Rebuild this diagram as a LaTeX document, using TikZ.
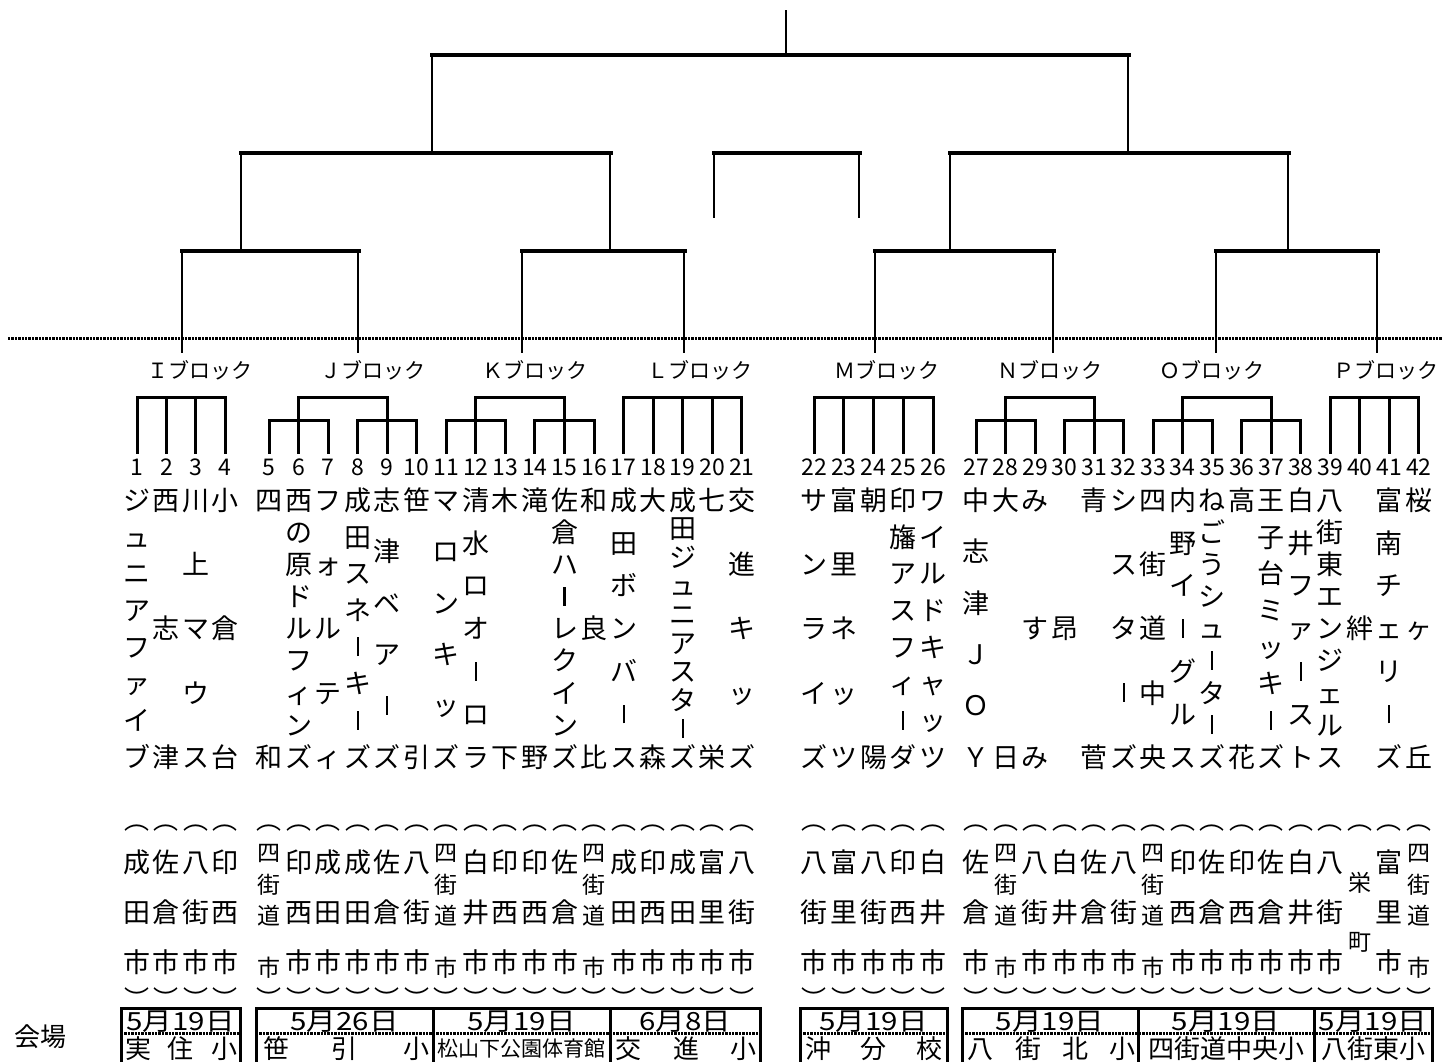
\documentclass[tikz,border=0pt]{standalone}
\usepackage{graphicx}
\usepackage{fontspec}
\setmainfont{Noto Sans CJK JP}
\newcommand\vb{\rule[0.04em]{0.075em}{0.7em}}
\newcommand\dt[1]{\scalebox{1.18}[1]{#1}}
\tikzset{
 tn/.style={inner sep=0pt, font=\fontsize{13.5}{14}\selectfont, text height=11.9pt, text depth=1.6pt},
 arcg/.style={inner sep=0pt, font=\fontsize{12.5}{13}\selectfont},
 ts/.style={inner sep=0pt, font=\fontsize{11.5}{12}\selectfont, text height=10.1pt, text depth=1.4pt},
 num/.style={inner sep=0pt, font=\fontsize{11.5}{12}\selectfont},
 blk/.style={inner sep=0pt, font=\fontsize{10.5}{11}\selectfont},
 thickbar/.style={line width=2pt, line cap=rect},
 thinv/.style={line width=1pt},
 br/.style={line width=1.5pt, line cap=rect},
 dotline/.style={line width=1.5pt, dash pattern=on 1.2pt off 0.5pt},
 boxline/.style={line width=1.5pt},
 datet/.style={inner sep=0pt, font=\fontsize{12.5}{13}\selectfont},
 venue/.style={inner sep=0pt, font=\fontsize{13}{14}\selectfont, text height=11.4pt, text depth=1.6pt},
 venuesm/.style={inner sep=0pt, font=\fontsize{10.5}{11}\selectfont, text height=9.2pt, text depth=1.3pt},
}
\pgfmathdeclarefunction{colx}{1}{\pgfmathparse{ifthenelse(#1<5, 137+29.4*(#1-1), ifthenelse(#1<22, 269+29.55*(#1-5), ifthenelse(#1<27, 814+29.75*(#1-22), 976+29.53*(#1-27))))}}
\foreach \i in {1,...,42}{\pgfmathsetmacro\xx{colx(\i)}\expandafter\xdef\csname cx\i\endcsname{\xx}}
\newcommand\X[1]{\csname cx#1\endcsname}
\newcommand\team[3]{%
 \foreach \c [count=\k from 0] in {#3}{%
  \pgfmathsetmacro\yy{ifthenelse(#2==1,628.5,500+257*\k/max(#2-1,1))}%
  \node[tn] (t#1-\k) at (\X{#1},\yy) {\c};}}
\newcommand\flatblk[2]{%
 \draw[br] (\X{#1},397) -- (\X{#2},397);
 \foreach \j in {#1,...,#2}{\draw[br] (\X{\j},397) -- (\X{\j},452);}}
\newcommand\twoblk[6]{%
 \draw[br] (\X{#1},420) -- (\X{#3},420);
 \draw[br] (\X{#4},420) -- (\X{#6},420);
 \foreach \j in {#1,...,#6}{\draw[br] (\X{\j},420) -- (\X{\j},452);}
 \draw[br] (\X{#2},397) -- (\X{#5},397);
 \draw[br] (\X{#2},397) -- (\X{#2},420);
 \draw[br] (\X{#5},397) -- (\X{#5},420);}
\begin{document}
\begin{tikzpicture}[x=0.5pt,y=-0.5pt]
\useasboundingbox (0,0) rectangle (1443,1061);
% top tree
\coordinate (r0) at (786,10);
\coordinate (r1) at (786,55);
\draw[thinv] (r0) -- (r1);
\draw[thickbar] (432,55) -- (1129,55);
\draw[thinv] (432,55) -- (432,153);
\draw[thinv] (1128,55) -- (1128,153);
\draw[thickbar] (241,153) -- (611,153);
\draw[thickbar] (714,153) -- (860,153);
\draw[thickbar] (950,153) -- (1289,153);
\foreach \x in {241,610,950,1288}{\draw[thinv] (\x,153) -- (\x,251);}
\foreach \x in {714,859}{\draw[thinv] (\x,153) -- (\x,218);}
\draw[thickbar] (182,251) -- (359,251);
\draw[thickbar] (522,251) -- (685,251);
\draw[thickbar] (875,251) -- (1054,251);
\draw[thickbar] (1216,251) -- (1378,251);
\foreach \x in {182,358,522,684,875,1053,1216,1377}{\draw[thinv] (\x,249) -- (\x,353);}
% dotted line
\draw[dotline] (8,338) -- (1443,338);
% block labels
\node[blk] (bI) at (200,370) {Ｉブロック};
\node[blk] (bJ) at (373,370) {Ｊブロック};
\node[blk] (bK) at (535,370) {Ｋブロック};
\node[blk] (bL) at (700,370) {Ｌブロック};
\node[blk] (bM) at (887,370) {Ｍブロック};
\node[blk] (bN) at (1050,370) {Ｎブロック};
\node[blk] (bO) at (1212,370) {Ｏブロック};
\node[blk] (bP) at (1386,370) {Ｐブロック};
% block brackets
\flatblk{1}{4}
\twoblk{5}{6}{7}{8}{9}{10}
\twoblk{11}{12}{13}{14}{15}{16}
\flatblk{17}{21}
\flatblk{22}{26}
\twoblk{27}{28}{29}{30}{31}{32}
\twoblk{33}{34}{35}{36}{37}{38}
\flatblk{39}{42}
% numbers
\foreach \i in {1,...,42}{\node[num] (n\i) at (\X{\i},467) {\i};}
% teams
\team{1}{8}{ジ,ュ,ニ,ア,フ,ァ,イ,ブ}
\team{2}{3}{西,志,津}
\team{3}{5}{川,上,マ,ウ,ス}
\team{4}{3}{小,倉,台}
\team{5}{2}{四,和}
\team{6}{9}{西,の,原,ド,ル,フ,ィ,ン,ズ}
\team{7}{5}{フ,ォ,ル,テ,ィ}
\team{8}{8}{成,田,ス,ネ,\vb,キ,\vb,ズ}
\team{9}{6}{志,津,ベ,ア,\vb,ズ}
\team{10}{2}{笹,引}
\team{11}{6}{マ,ロ,ン,キ,ッ,ズ}
\team{12}{7}{清,水,ロ,オ,\vb,ロ,ラ}
\team{13}{2}{木,下}
\team{14}{2}{滝,野}
\team{15}{9}{佐,倉,ハ,\vb,レ,ク,イ,ン,ズ}
\team{16}{3}{和,良,比}
\team{17}{7}{成,田,ボ,ン,バ,\vb,ス}
\team{18}{2}{大,森}
\team{19}{10}{成,田,ジ,ュ,ニ,ア,ス,タ,\vb,ズ}
\team{20}{2}{七,栄}
\team{21}{5}{交,進,キ,ッ,ズ}
\team{22}{5}{サ,ン,ラ,イ,ズ}
\team{23}{5}{富,里,ネ,ッ,ツ}
\team{24}{2}{朝,陽}
\team{25}{8}{印,旛,ア,ス,フ,ィ,\vb,ダ}
\team{26}{8}{ワ,イ,ル,ド,キ,ャ,ッ,ツ}
\team{27}{6}{中,志,津,Ｊ,Ｏ,Ｙ}
\team{28}{2}{大,日}
\team{29}{3}{み,す,み}
\team{30}{1}{昂}
\team{31}{2}{青,菅}
\team{32}{5}{シ,ス,タ,\vb,ズ}
\team{33}{5}{四,街,道,中,央}
\team{34}{7}{内,野,イ,\vb,グ,ル,ス}
\team{35}{9}{ね,ご,う,シ,ュ,\vb,タ,\vb,ズ}
\team{36}{2}{高,花}
\team{37}{8}{王,子,台,ミ,ッ,キ,\vb,ズ}
\team{38}{7}{白,井,フ,ァ,\vb,ス,ト}
\team{39}{9}{八,街,東,エ,ン,ジ,ェ,ル,ス}
\team{40}{1}{絆}
\team{41}{7}{富,南,チ,ェ,リ,\vb,ズ}
\team{42}{3}{桜,ヶ,丘}
% brackets around cities
\foreach \i in {1,...,42}{
 \node[arcg] (pa\i) at (\X{\i},828) {︵};
 \node[arcg] (pb\i) at (\X{\i},998) {︶};}
% cities
\foreach \i/\a/\b in {1/成/田,2/佐/倉,3/八/街,4/印/西,6/印/西,7/成/田,8/成/田,9/佐/倉,10/八/街,12/白/井,13/印/西,14/印/西,15/佐/倉,17/成/田,18/印/西,19/成/田,20/富/里,21/八/街,22/八/街,23/富/里,24/八/街,25/印/西,26/白/井,27/佐/倉,29/八/街,30/白/井,31/佐/倉,32/八/街,34/印/西,35/佐/倉,36/印/西,37/佐/倉,38/白/井,39/八/街,41/富/里}{
 \node[tn] (ca\i) at (\X{\i},862) {\a};
 \node[tn] (cb\i) at (\X{\i},912) {\b};
 \node[tn] (cc\i) at (\X{\i},962) {市};}
\foreach \i in {5,11,16,28,33,42}{
 \node[ts] (ca\i) at (\X{\i},853) {四};
 \node[ts] (cb\i) at (\X{\i},885) {街};
 \node[ts] (cc\i) at (\X{\i},916) {道};
 \node[ts] (cd\i) at (\X{\i},968) {市};}
\node[ts] (ca40) at (\X{40},883) {栄};
\node[ts] (cb40) at (\X{40},942) {町};
% venue
\node[venue] (kaijo) at (40,1037) {会場};
\draw[boxline] (121,1008) rectangle (240,1090);
\draw[dotline] (121,1033) -- (240,1033);
\node[datet] (dA) at (180.5,1022) {\dt{5月19日}};
\node[venue] (vA1) at (138,1049) {実};
\node[venue] (vA2) at (180.5,1049) {住};
\node[venue] (vA3) at (224,1049) {小};
\draw[boxline] (256,1008) rectangle (760,1090);
\draw[boxline] (433,1008) -- (433,1090);
\draw[boxline] (610,1008) -- (610,1090);
\draw[dotline] (256,1033) -- (760,1033);
\node[datet] (dB1) at (344.5,1022) {\dt{5月26日}};
\node[datet] (dB2) at (521.5,1022) {\dt{5月19日}};
\node[datet] (dB3) at (685,1022) {\dt{6月8日}};
\node[venue] (vB1) at (276,1049) {笹};
\node[venue] (vB2) at (344,1049) {引};
\node[venue] (vB3) at (416,1049) {小};
\node[venuesm] (vB4) at (521.5,1049) {松山下公園体育館};
\node[venue] (vC1) at (628,1049) {交};
\node[venue] (vC2) at (686,1049) {進};
\node[venue] (vC3) at (743,1049) {小};
\draw[boxline] (800,1008) rectangle (947,1090);
\draw[dotline] (800,1033) -- (947,1033);
\node[datet] (dD) at (873.5,1022) {\dt{5月19日}};
\node[venue] (vD1) at (818,1049) {沖};
\node[venue] (vD2) at (873.5,1049) {分};
\node[venue] (vD3) at (929,1049) {校};
\draw[boxline] (962,1008) rectangle (1432,1090);
\draw[boxline] (1138,1008) -- (1138,1090);
\draw[boxline] (1314,1008) -- (1314,1090);
\draw[dotline] (962,1033) -- (1432,1033);
\node[datet] (dE1) at (1050,1022) {\dt{5月19日}};
\node[datet] (dE2) at (1226,1022) {\dt{5月19日}};
\node[datet] (dE3) at (1373,1022) {\dt{5月19日}};
\node[venue] (vE1) at (980,1049) {八};
\node[venue] (vE2) at (1028,1049) {街};
\node[venue] (vE3) at (1075,1049) {北};
\node[venue] (vE4) at (1122,1049) {小};
\node[venue] (vF) at (1226,1049) {四街道中央小};
\node[venue] (vG) at (1373,1049) {八街東小};
\end{tikzpicture}
\end{document}
